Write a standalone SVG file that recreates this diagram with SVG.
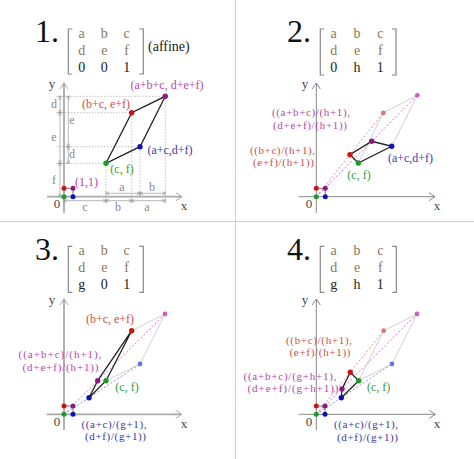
<svg xmlns="http://www.w3.org/2000/svg" width="474" height="459" viewBox="0 0 474 459">
<style>
text{font-family:"Liberation Serif","DejaVu Serif",serif}
.big{font-size:32px;fill:#111}
.m{font-size:14px;fill:#857a5c;text-anchor:middle}
.mk{fill:#222}
.aff{font-size:14px;fill:#222}
.lbl{font-size:12px;text-anchor:middle}
.l2{font-size:11px;text-anchor:middle}
.axl{font-size:13px;fill:#444;text-anchor:middle}
.dl{font-size:12px;fill:#888;text-anchor:middle}
.lr{fill:#d24c4c}.lm{fill:#b646ae}.lb{fill:#3838b0}.lg{fill:#35a035}
.axA{stroke:#aaa;stroke-width:1.8;fill:none;marker-end:url(#arA)}
.axB{stroke:#888;stroke-width:1;fill:none;marker-end:url(#arB)}
.br{stroke:#888;stroke-width:1.2;fill:none}
.edge{stroke:#222;stroke-width:1.3;fill:none}
.sq{stroke:#555;stroke-width:0.8;fill:none}
.faint{stroke:#c4c4c4;stroke-width:0.8;fill:none}
.dr{stroke:#e07070;stroke-width:0.8;stroke-dasharray:2 2;fill:none}
.dm{stroke:#c656b8;stroke-width:0.8;stroke-dasharray:2 2;fill:none}
.db{stroke:#6a78d8;stroke-width:0.8;stroke-dasharray:2 2;fill:none}
.guide{stroke:#aaa;stroke-width:0.7;stroke-dasharray:1.5 1.5;fill:none}
.dim{stroke:#999;stroke-width:0.7;fill:none;marker-start:url(#dim);marker-end:url(#dim)}
.div{stroke:#cfcfcf;stroke-width:1}
.pr{fill:#c81414}.pp{fill:#8c1a80}.pb{fill:#1010b8}.pg{fill:#1f9a2a}
.fr{fill:#e07878}.fp{fill:#d060c0}.fb{fill:#6878e0}
</style>
<defs>
<marker id="arA" viewBox="-8 -6 10 12" markerWidth="10" markerHeight="12" refX="0" refY="0" orient="auto" markerUnits="userSpaceOnUse">
<path d="M-6,-4L0,0L-6,4" fill="none" stroke="#aaa" stroke-width="1"/></marker>
<marker id="arB" viewBox="-8 -6 10 12" markerWidth="10" markerHeight="12" refX="0" refY="0" orient="auto" markerUnits="userSpaceOnUse">
<path d="M-6,-4L0,0L-6,4" fill="none" stroke="#888" stroke-width="1"/></marker>
<marker id="dim" viewBox="-4 -4 8 8" markerWidth="8" markerHeight="8" refX="0" refY="0" orient="auto-start-reverse" markerUnits="userSpaceOnUse">
<path d="M0,-2.2V2.2M-3,-1.4L0,0L-3,1.4" fill="none" stroke="#999" stroke-width="0.7"/></marker>
</defs>

<g id="dividers">
<line class="div" x1="235.5" y1="0" x2="235.5" y2="459"/>
<line class="div" x1="0" y1="221.5" x2="474" y2="221.5"/>
</g>

<!-- ===== Panel 1 ===== -->
<g id="panel1">
<g id="p1-matrix">
<text class="big" x="35" y="42">1.</text>
<path class="br" d="M72.3,29H68.3V74H72.3M139.3,29H143.3V74H139.3"/>
<text class="m" x="81.7" y="37.5">a</text><text class="m" x="104.3" y="37.5">b</text><text class="m" x="126.7" y="37.5">c</text>
<text class="m" x="81.7" y="54.5">d</text><text class="m" x="104.3" y="54.5">e</text><text class="m" x="126.7" y="54.5">f</text>
<text class="m mk" x="81.7" y="71.5">0</text><text class="m mk" x="104.3" y="71.5">0</text><text class="m mk" x="126.7" y="71.5">1</text>
<text class="aff" x="148" y="51">(affine)</text>
</g>
<g id="p1-axes">
<path class="axA" d="M47,196.7H182"/>
<path class="axA" d="M64,213V83"/>
<text class="axl" x="184" y="210">x</text>
<text class="axl" x="52" y="88">y</text>
<text class="axl" x="57" y="208">0</text>
</g>
<g id="p1-dimensions">
<path class="guide" d="M56,96.3H165.3M56,112.7H131.7M56,146.7H140M56,163.3H106M106,163.3V203M131.7,112.7V203M140,146.7V196M165.3,96.3V203"/>
<path class="dim" d="M60,96.3V112.7"/><path class="dim" d="M60,112.7V163.3"/><path class="dim" d="M60,163.3V196.7"/>
<path class="dim" d="M68.3,96.3V146.7"/><path class="dim" d="M68.3,146.7V163.3"/>
<path class="dim" d="M64,200.7H106"/><path class="dim" d="M106,200.7H131.7"/><path class="dim" d="M131.7,200.7H165.3"/>
<path class="dim" d="M106,193.3H140"/><path class="dim" d="M140,193.3H165.3"/>
<text class="dl" x="54" y="108">d</text><text class="dl" x="54" y="141">e</text><text class="dl" x="54" y="184">f</text>
<text class="dl" x="72" y="124">e</text><text class="dl" x="72" y="158">d</text>
<text class="dl" x="85" y="211">c</text><text class="dl" x="118" y="211">b</text><text class="dl" x="147" y="211">a</text>
<text class="dl" x="122" y="191">a</text><text class="dl" x="152" y="191">b</text>
</g>
<g id="p1-connectors">
<path class="sq" d="M64,188.3H73V196.7"/>
<path class="edge" d="M106,163.3L131.7,112.7L165.3,96.3L140,146.7Z"/>
</g>
<g id="p1-unit-00"><circle class="pg" cx="64" cy="196.7" r="2.5"/></g>
<g id="p1-unit-10"><circle class="pb" cx="73" cy="196.7" r="2.5"/></g>
<g id="p1-unit-01"><circle class="pr" cx="64" cy="188.3" r="2.5"/></g>
<g id="p1-unit-11"><circle class="pp" cx="73" cy="188.3" r="2.5"/><text class="lbl lm" x="86.5" y="185.5">(1,1)</text></g>
<g id="p1-cf"><circle class="pg" cx="106" cy="163.3" r="2.7"/><text class="lbl lg" x="122" y="173">(c, f)</text></g>
<g id="p1-acdf"><circle class="pb" cx="140" cy="146.7" r="2.7"/><text class="lbl lb" x="170" y="154">(a+c,d+f)</text></g>
<g id="p1-bcef"><circle class="pr" cx="131.7" cy="112.7" r="2.7"/><text class="lbl lr" x="106" y="108">(b+c, e+f)</text></g>
<g id="p1-abcdef"><circle class="pp" cx="165.3" cy="96.3" r="2.7"/><text class="lbl lm" x="167" y="88.5">(a+b+c, d+e+f)</text></g>
</g>

<!-- ===== Panel 2 ===== -->
<g id="panel2">
<g id="p2-matrix">
<text class="big" x="287" y="42">2.</text>
<path class="br" d="M324.3,29H320.3V75H324.3M392,29H396V75H392"/>
<text class="m" x="333.7" y="37.5">a</text><text class="m" x="357" y="37.5">b</text><text class="m" x="380.3" y="37.5">c</text>
<text class="m" x="333.7" y="54.5">d</text><text class="m" x="357" y="54.5">e</text><text class="m" x="380.3" y="54.5">f</text>
<text class="m mk" x="333.7" y="71.5">0</text><text class="m mk" x="357" y="71.5">h</text><text class="m mk" x="380.3" y="71.5">1</text>
</g>
<g id="p2-axes">
<path class="axB" d="M298.7,196.7H435"/>
<path class="axB" d="M316.3,213V83"/>
<text class="axl" x="437" y="210">x</text>
<text class="axl" x="305" y="88">y</text>
<text class="axl" x="309" y="208">0</text>
</g>
<g id="p2-connectors">
<path class="faint" d="M358.3,163L383.3,113L417.3,95.3L391.7,146.3"/>
<path class="dr" d="M316.3,196.7L383.3,113"/>
<path class="dm" d="M316.3,196.7L417.3,95.3"/>
<path class="sq" d="M316.3,188.3H325.3V196.7"/>
<path class="edge" d="M358.3,163L350,154.7L371.7,141.3L391.7,146.3Z"/>
</g>
<g id="p2-unit-00"><circle class="pg" cx="316.3" cy="196.7" r="2.5"/></g>
<g id="p2-unit-10"><circle class="pb" cx="325.3" cy="196.7" r="2.5"/></g>
<g id="p2-unit-01"><circle class="pr" cx="316.3" cy="188.3" r="2.5"/></g>
<g id="p2-unit-11"><circle class="pp" cx="325.3" cy="188.3" r="2.5"/></g>
<g id="p2-faded-bcef"><circle class="fr" cx="383.3" cy="113" r="2.4"/></g>
<g id="p2-faded-abcdef"><circle class="fp" cx="417.3" cy="95.3" r="2.4"/></g>
<g id="p2-cf"><circle class="pg" cx="358.3" cy="163" r="2.7"/><text class="lbl lg" x="359" y="179">(c, f)</text></g>
<g id="p2-acdf"><circle class="pb" cx="391.7" cy="146.3" r="2.7"/><text class="lbl lb" x="410.5" y="162">(a+c,d+f)</text></g>
<g id="p2-r"><circle class="pr" cx="350" cy="154.7" r="2.7"/><text class="l2 lr" x="282.5" y="154.1" textLength="65" lengthAdjust="spacing">((b+c)/(h+1),</text><text class="l2 lr" x="283.5" y="166.3" textLength="61" lengthAdjust="spacing">(e+f)/(h+1))</text></g>
<g id="p2-p"><circle class="pp" cx="371.7" cy="141.3" r="2.7"/><text class="l2 lm" x="311" y="116.4" textLength="78" lengthAdjust="spacing">((a+b+c)/(h+1),</text><text class="l2 lm" x="310" y="128.6" textLength="74" lengthAdjust="spacing">(d+e+f)/(h+1))</text></g>
</g>

<!-- ===== Panel 3 ===== -->
<g id="panel3">
<g id="p3-matrix">
<text class="big" x="35" y="260">3.</text>
<path class="br" d="M72.3,246.3H68.3V292.3H72.3M139.3,246.3H143.3V292.3H139.3"/>
<text class="m" x="81.7" y="255">a</text><text class="m" x="104.3" y="255">b</text><text class="m" x="126.7" y="255">c</text>
<text class="m" x="81.7" y="272">d</text><text class="m" x="104.3" y="272">e</text><text class="m" x="126.7" y="272">f</text>
<text class="m mk" x="81.7" y="289">g</text><text class="m mk" x="104.3" y="289">0</text><text class="m mk" x="126.7" y="289">1</text>
</g>
<g id="p3-axes">
<path class="axA" d="M46.7,414.3H181.7"/>
<path class="axA" d="M64,430V299"/>
<text class="axl" x="184" y="427.5">x</text>
<text class="axl" x="52" y="304">y</text>
<text class="axl" x="57" y="426">0</text>
</g>
<g id="p3-connectors">
<path class="faint" d="M131.7,330.7L165,314L140,364L106,380.7"/>
<path class="dm" d="M64,414.3L165,314"/>
<path class="db" d="M64,414.3L140,364"/>
<path class="sq" d="M64,406H73V414.3"/>
<path class="edge" d="M106,380.7L131.7,330.7L97.7,380.7L89,397.7Z"/>
</g>
<g id="p3-unit-00"><circle class="pg" cx="64" cy="414.3" r="2.5"/></g>
<g id="p3-unit-10"><circle class="pb" cx="73" cy="414.3" r="2.5"/></g>
<g id="p3-unit-01"><circle class="pr" cx="64" cy="406" r="2.5"/></g>
<g id="p3-unit-11"><circle class="pp" cx="73" cy="406" r="2.5"/></g>
<g id="p3-faded-abcdef"><circle class="fp" cx="165" cy="314" r="2.4"/></g>
<g id="p3-faded-acdf"><circle class="fb" cx="140" cy="364" r="2.4"/></g>
<g id="p3-bcef"><circle class="pr" cx="131.7" cy="330.7" r="2.7"/><text class="lbl lr" x="110" y="323">(b+c, e+f)</text></g>
<g id="p3-cf"><circle class="pg" cx="106" cy="380.7" r="2.7"/><text class="lbl lg" x="127" y="391">(c, f)</text></g>
<g id="p3-p"><circle class="pp" cx="97.7" cy="380.7" r="2.7"/><text class="l2 lm" x="60" y="358.4" textLength="83" lengthAdjust="spacing">((a+b+c)/(h+1),</text><text class="l2 lm" x="60.5" y="370.6" textLength="76" lengthAdjust="spacing">(d+e+f)/(h+1))</text></g>
<g id="p3-b"><circle class="pb" cx="89" cy="397.7" r="2.7"/><text class="l2 lb" x="114" y="427.9" textLength="65" lengthAdjust="spacing">((a+c)/(g+1),</text><text class="l2 lb" x="115.5" y="440.1" textLength="61" lengthAdjust="spacing">(d+f)/(g+1))</text></g>
</g>

<!-- ===== Panel 4 ===== -->
<g id="panel4">
<g id="p4-matrix">
<text class="big" x="287" y="260">4.</text>
<path class="br" d="M324.3,246.3H320.3V292.3H324.3M392.3,246.3H396.3V292.3H392.3"/>
<text class="m" x="333.7" y="255">a</text><text class="m" x="357" y="255">b</text><text class="m" x="380.3" y="255">c</text>
<text class="m" x="333.7" y="272">d</text><text class="m" x="357" y="272">e</text><text class="m" x="380.3" y="272">f</text>
<text class="m mk" x="333.7" y="289">g</text><text class="m mk" x="357" y="289">h</text><text class="m mk" x="380.3" y="289">1</text>
</g>
<g id="p4-axes">
<path class="axB" d="M298.7,414.3H435.3"/>
<path class="axB" d="M316.3,430V299"/>
<text class="axl" x="437" y="427.5">x</text>
<text class="axl" x="305" y="304">y</text>
<text class="axl" x="309" y="426">0</text>
</g>
<g id="p4-connectors">
<path class="faint" d="M358.7,380.7L383.7,330.7L417,314L392,364Z"/>
<path class="dr" d="M316.3,414.3L383.7,330.7"/>
<path class="dm" d="M316.3,414.3L417,314"/>
<path class="db" d="M316.3,414.3L392,364"/>
<path class="sq" d="M316.3,406H325V414.3"/>
<path class="edge" d="M358.7,380.7L350.3,372.3L342,389L341.3,397.7Z"/>
</g>
<g id="p4-unit-00"><circle class="pg" cx="316.3" cy="414.3" r="2.5"/></g>
<g id="p4-unit-10"><circle class="pb" cx="325" cy="414.3" r="2.5"/></g>
<g id="p4-unit-01"><circle class="pr" cx="316.3" cy="406" r="2.5"/></g>
<g id="p4-unit-11"><circle class="pp" cx="325" cy="406" r="2.5"/></g>
<g id="p4-faded-bcef"><circle class="fr" cx="383.7" cy="330.7" r="2.4"/></g>
<g id="p4-faded-abcdef"><circle class="fp" cx="417" cy="314" r="2.4"/></g>
<g id="p4-faded-acdf"><circle class="fb" cx="392" cy="364" r="2.4"/></g>
<g id="p4-r"><circle class="pr" cx="350.3" cy="372.3" r="2.7"/><text class="l2 lr" x="319" y="343.6" textLength="66" lengthAdjust="spacing">((b+c)/(h+1),</text><text class="l2 lr" x="320" y="355.9" textLength="61" lengthAdjust="spacing">(e+f)/(h+1))</text></g>
<g id="p4-cf"><circle class="pg" cx="358.7" cy="380.7" r="2.7"/><text class="lbl lg" x="378.7" y="391">(c, f)</text></g>
<g id="p4-p"><circle class="pp" cx="342" cy="389" r="2.7"/><text class="l2 lm" x="290" y="379.9" textLength="93" lengthAdjust="spacing">((a+b+c)/(g+h+1),</text><text class="l2 lm" x="293" y="392.1" textLength="91" lengthAdjust="spacing">(d+e+f)/(g+h+1))</text></g>
<g id="p4-b"><circle class="pb" cx="341.3" cy="397.7" r="2.7"/><text class="l2 lb" x="366" y="428.4" textLength="64" lengthAdjust="spacing">((a+c)/(g+1),</text><text class="l2 lb" x="367.5" y="440.6" textLength="61" lengthAdjust="spacing">(d+f)/(g+1))</text></g>
</g>
</svg>
